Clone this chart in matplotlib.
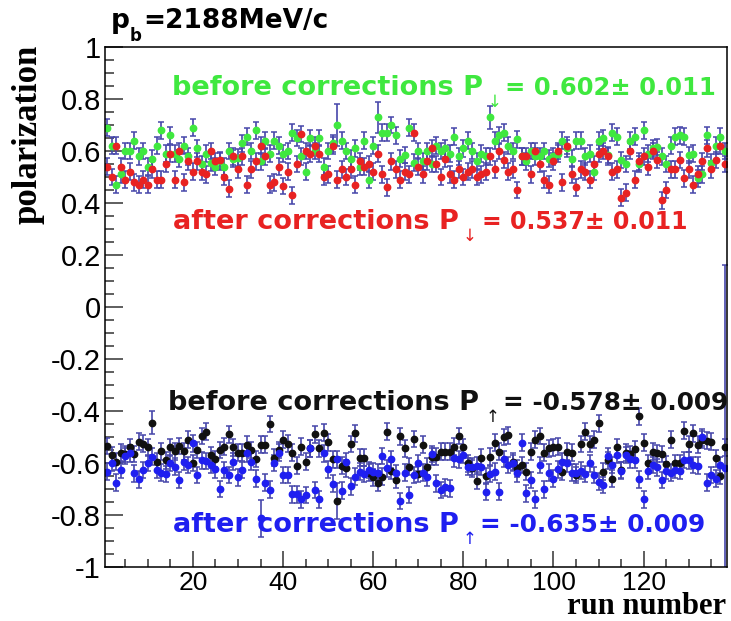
import matplotlib
matplotlib.use("Agg")
import matplotlib.pyplot as plt
import numpy as np

# run numbers 1..138
runs = np.arange(1, 139)

# P_down before corrections (green)
pol_down_before = [
    0.69, 0.62, 0.47, 0.51, 0.60, 0.60, 0.64, 0.58, 0.60, 0.54,
    0.57, 0.62, 0.68, 0.59, 0.66, 0.59, 0.57, 0.62, 0.58, 0.69,
    0.61, 0.55, 0.59, 0.555, 0.54, 0.56, 0.54, 0.60, 0.57, 0.575,
    0.63, 0.655, 0.60, 0.68, 0.56, 0.64, 0.59, 0.64, 0.62, 0.59,
    0.60, 0.67, 0.65, 0.58, 0.52, 0.65, 0.60, 0.65, 0.54, 0.60,
    0.63, 0.70, 0.64, 0.60, 0.57, 0.61, 0.54, 0.64, 0.49, 0.62,
    0.73, 0.67, 0.67, 0.70, 0.66, 0.57, 0.585, 0.69, 0.555, 0.60,
    0.56, 0.60, 0.55, 0.62, 0.60, 0.61, 0.59, 0.655, 0.58, 0.61,
    0.64, 0.60, 0.56, 0.59, 0.58, 0.73, 0.64, 0.66, 0.67, 0.62,
    0.60, 0.645, 0.58, 0.56, 0.60, 0.58, 0.58, 0.60, 0.57, 0.58,
    0.59, 0.64, 0.61, 0.57, 0.64, 0.64, 0.58, 0.59, 0.52, 0.64,
    0.65, 0.585, 0.67, 0.655, 0.565, 0.55, 0.64, 0.655, 0.55, 0.68,
    0.59, 0.61, 0.615, 0.58, 0.55, 0.62, 0.655, 0.66, 0.655, 0.585,
    0.59, 0.495, 0.51, 0.66, 0.555, 0.62, 0.655, 0.60,
]

# P_down after corrections (red)
pol_down_after = [
    0.54, 0.50, 0.62, 0.54, 0.49, 0.52, 0.48, 0.47, 0.49, 0.47,
    0.53, 0.49, 0.49, 0.55, 0.59, 0.49, 0.60, 0.48, 0.56, 0.52,
    0.56, 0.52, 0.51, 0.60, 0.56, 0.565, 0.50, 0.455, 0.58, 0.53,
    0.58, 0.47, 0.53, 0.56, 0.62, 0.58, 0.47, 0.48, 0.54, 0.465,
    0.52, 0.43, 0.55, 0.665, 0.60, 0.59, 0.62, 0.59, 0.50, 0.51,
    0.62, 0.49, 0.53, 0.50, 0.53, 0.47, 0.56, 0.54, 0.55, 0.52,
    0.59, 0.51, 0.46, 0.56, 0.53, 0.49, 0.52, 0.51, 0.67, 0.54,
    0.51, 0.56, 0.61, 0.55, 0.50, 0.57, 0.51, 0.49, 0.53, 0.50,
    0.52, 0.53, 0.50, 0.51, 0.52, 0.58, 0.53, 0.60, 0.565, 0.52,
    0.53, 0.45, 0.58, 0.58, 0.51, 0.60, 0.55, 0.49, 0.47, 0.56,
    0.60, 0.48, 0.62, 0.51, 0.46, 0.53, 0.52, 0.49, 0.55, 0.59,
    0.60, 0.58, 0.52, 0.53, 0.42, 0.44, 0.60, 0.49, 0.56, 0.58,
    0.54, 0.60, 0.565, 0.41, 0.45, 0.53, 0.53, 0.565, 0.495, 0.53,
    0.47, 0.51, 0.56, 0.61, 0.53, 0.565, 0.62, 0.55,
]

# P_up before corrections (black)
pol_up_before = [
    -0.535, -0.57, -0.595, -0.56, -0.565, -0.54, -0.565, -0.518, -0.525, -0.54,
    -0.445, -0.595, -0.555, -0.59, -0.54, -0.555, -0.535, -0.555, -0.51, -0.60,
    -0.55, -0.496, -0.48, -0.57, -0.585, -0.55, -0.537, -0.49, -0.54, -0.56,
    -0.56, -0.53, -0.55, -0.585, -0.53, -0.53, -0.45, -0.58, -0.55, -0.51,
    -0.525, -0.56, -0.61, -0.537, -0.595, -0.543, -0.49, -0.543, -0.483, -0.52,
    -0.586, -0.745, -0.61, -0.62, -0.527, -0.486, -0.58, -0.58, -0.637, -0.655,
    -0.675, -0.652, -0.48, -0.63, -0.665, -0.498, -0.543, -0.614, -0.508, -0.642,
    -0.53, -0.614, -0.575, -0.575, -0.556, -0.556, -0.556, -0.537, -0.496, -0.54,
    -0.601, -0.62, -0.668, -0.58, -0.65, -0.575, -0.522, -0.556, -0.50, -0.493,
    -0.595, -0.62, -0.607, -0.633, -0.556, -0.51, -0.496, -0.56, -0.543, -0.54,
    -0.537, -0.633, -0.556, -0.56, -0.646, -0.527, -0.48, -0.527, -0.51, -0.447,
    -0.633, -0.59, -0.66, -0.54, -0.627, -0.56, -0.565, -0.547, -0.42, -0.522,
    -0.60, -0.556, -0.563, -0.565, -0.604, -0.51, -0.601, -0.601, -0.476, -0.527,
    -0.486, -0.53, -0.51, -0.514, -0.518, -0.582, -0.65, -0.54,
]

# P_up after corrections (blue)
pol_up_after = [
    -0.633, -0.60, -0.675, -0.627, -0.573, -0.563, -0.64, -0.663, -0.627, -0.60,
    -0.575, -0.627, -0.637, -0.642, -0.60, -0.614, -0.665, -0.595, -0.607, -0.524,
    -0.646, -0.59, -0.592, -0.607, -0.624, -0.70, -0.627, -0.646, -0.595, -0.655,
    -0.627, -0.563, -0.595, -0.66, -0.813, -0.675, -0.703, -0.60, -0.56, -0.646,
    -0.646, -0.72, -0.72, -0.74, -0.723, -0.543, -0.704, -0.74, -0.563, -0.624,
    -0.68, -0.586, -0.706, -0.595, -0.69, -0.652, -0.633, -0.642, -0.627, -0.633,
    -0.637, -0.573, -0.62, -0.586, -0.64, -0.746, -0.637, -0.723, -0.646, -0.60,
    -0.637, -0.655, -0.565, -0.678, -0.704, -0.693, -0.697, -0.582, -0.586, -0.569,
    -0.614, -0.614, -0.61, -0.614, -0.71, -0.642, -0.633, -0.71, -0.585, -0.607,
    -0.60, -0.64, -0.522, -0.717, -0.665, -0.74, -0.607, -0.701, -0.637, -0.66,
    -0.624, -0.595, -0.601, -0.637, -0.637, -0.63, -0.642, -0.601, -0.646, -0.672,
    -0.684, -0.573, -0.607, -0.569, -0.63, -0.569, -0.586, -0.588, -0.663, -0.74,
    -0.63, -0.607, -0.617, -0.665, -0.63, -0.637, -0.627, -0.63, -0.588, -0.59,
    -0.607, -0.61, -0.501, -0.676, -0.646, -0.66, -0.607, -0.62,
]

# statistical errors: typical value plus the few runs with larger bars
err_typical = 0.032
err_down_before = np.full(len(runs), err_typical)
err_down_before[[51, 60, 85]] = [0.08, 0.06, 0.045]
err_down_after = np.full(len(runs), err_typical)
err_up_before = np.full(len(runs), err_typical)
err_up_before[[51, 10]] = [0.07, 0.045]
err_up_after = np.full(len(runs), err_typical)
err_up_after[[34, 137]] = [0.07, 0.78]

title = "=2188MeV/c"
xlabel = "run number"
ylabel = "polarization"

W, H = 731, 621
fig = plt.figure(figsize=(W / 100, H / 100), dpi=100)
ax = fig.add_axes([105 / W, 1 - 567 / H, 622 / W, 520 / H])


def fx(px):
    return px / W


def fy(py):
    return 1 - py / H


bar_col = "#4646aa"
series = [
    (pol_down_before, err_down_before, "#3fe83f"),
    (pol_down_after, err_down_after, "#e82222"),
    (pol_up_before, err_up_before, "#111111"),
    (pol_up_after, err_up_after, "#1f1ff0"),
]
for vals, errs, col in series:
    ax.errorbar(runs, vals, yerr=errs, fmt="o", ms=4.6, mfc=col, mec=col,
                ecolor=bar_col, elinewidth=1.2, capsize=2.4, capthick=1.1,
                zorder=2)

ax.set_xlim(0.5, 138.5)
ax.set_ylim(-1, 1)
ax.set_xticks([20, 40, 60, 80, 100, 120])
ax.set_xticks(np.arange(5, 139, 5), minor=True)
ax.set_yticks(np.arange(-1, 1.01, 0.2))
ax.set_yticks(np.arange(-1, 1.01, 0.05), minor=True)
ax.set_yticklabels(["-1", "-0.8", "-0.6", "-0.4", "-0.2", "0",
                    "0.2", "0.4", "0.6", "0.8", "1"])
ax.tick_params(axis="both", which="both", direction="in",
               top=False, right=False, width=1.1, color="#333333")
ax.tick_params(axis="y", which="major", length=13, pad=3, labelsize=21)
ax.tick_params(axis="y", which="minor", length=6.5)
ax.tick_params(axis="x", which="major", length=11.5, pad=3, labelsize=19)
ax.tick_params(axis="x", which="minor", length=5.8)
for lab in ax.get_xticklabels() + ax.get_yticklabels():
    lab.set_family("Liberation Sans")
for sp in ax.spines.values():
    sp.set_linewidth(1.1)

# title and axis titles
fig.text(fx(111), fy(21), "p", fontsize=19, fontweight="bold",
         family="DejaVu Sans", va="center", ha="left")
fig.text(fx(130), fy(36), "b", fontsize=12, fontweight="bold",
         family="DejaVu Sans", va="center", ha="left")
fig.text(fx(143), fy(21), title, fontsize=19, fontweight="bold",
         family="DejaVu Sans", va="center", ha="left")
fig.text(fx(28), fy(45), ylabel, rotation=90, fontsize=25, fontweight="bold",
         family="Liberation Serif", ha="center", va="top")
fig.text(fx(726), fy(607), xlabel, fontsize=22, fontweight="bold",
         family="Liberation Serif", ha="right", va="center")

# result annotations
notes = [
    # text, arrow, value, colour, y, x_text, x_arrow, x_val, val size
    ("before corrections P", "\u2193", "= 0.602\u00b1 0.011", "#3fe83f",
     88, 172, 488, 505, 17.5),
    ("after corrections P", "\u2193", "= 0.537\u00b1 0.011", "#e82222",
     222, 173, 463, 482, 17),
    ("before corrections P", "\u2191", "= -0.578\u00b1 0.009", "#111111",
     403, 168, 486, 503, 17.8),
    ("after corrections P", "\u2191", "= -0.635\u00b1 0.009", "#1f1ff0",
     525, 173, 463, 480, 17.8),
]
for txt, arrow, val, col, yy, xt, xa, xv, vs in notes:
    fig.text(fx(xt), fy(yy), txt, color=col, fontsize=19.5, fontweight="bold",
             family="DejaVu Sans", va="center", ha="left")
    fig.text(fx(xa), fy(yy + 14), arrow, color=col, fontsize=12,
             family="DejaVu Sans", va="center", ha="left")
    fig.text(fx(xv), fy(yy), val, color=col, fontsize=vs, fontweight="bold",
             family="DejaVu Sans", va="center", ha="left")

fig.savefig("out.png", dpi=100)
